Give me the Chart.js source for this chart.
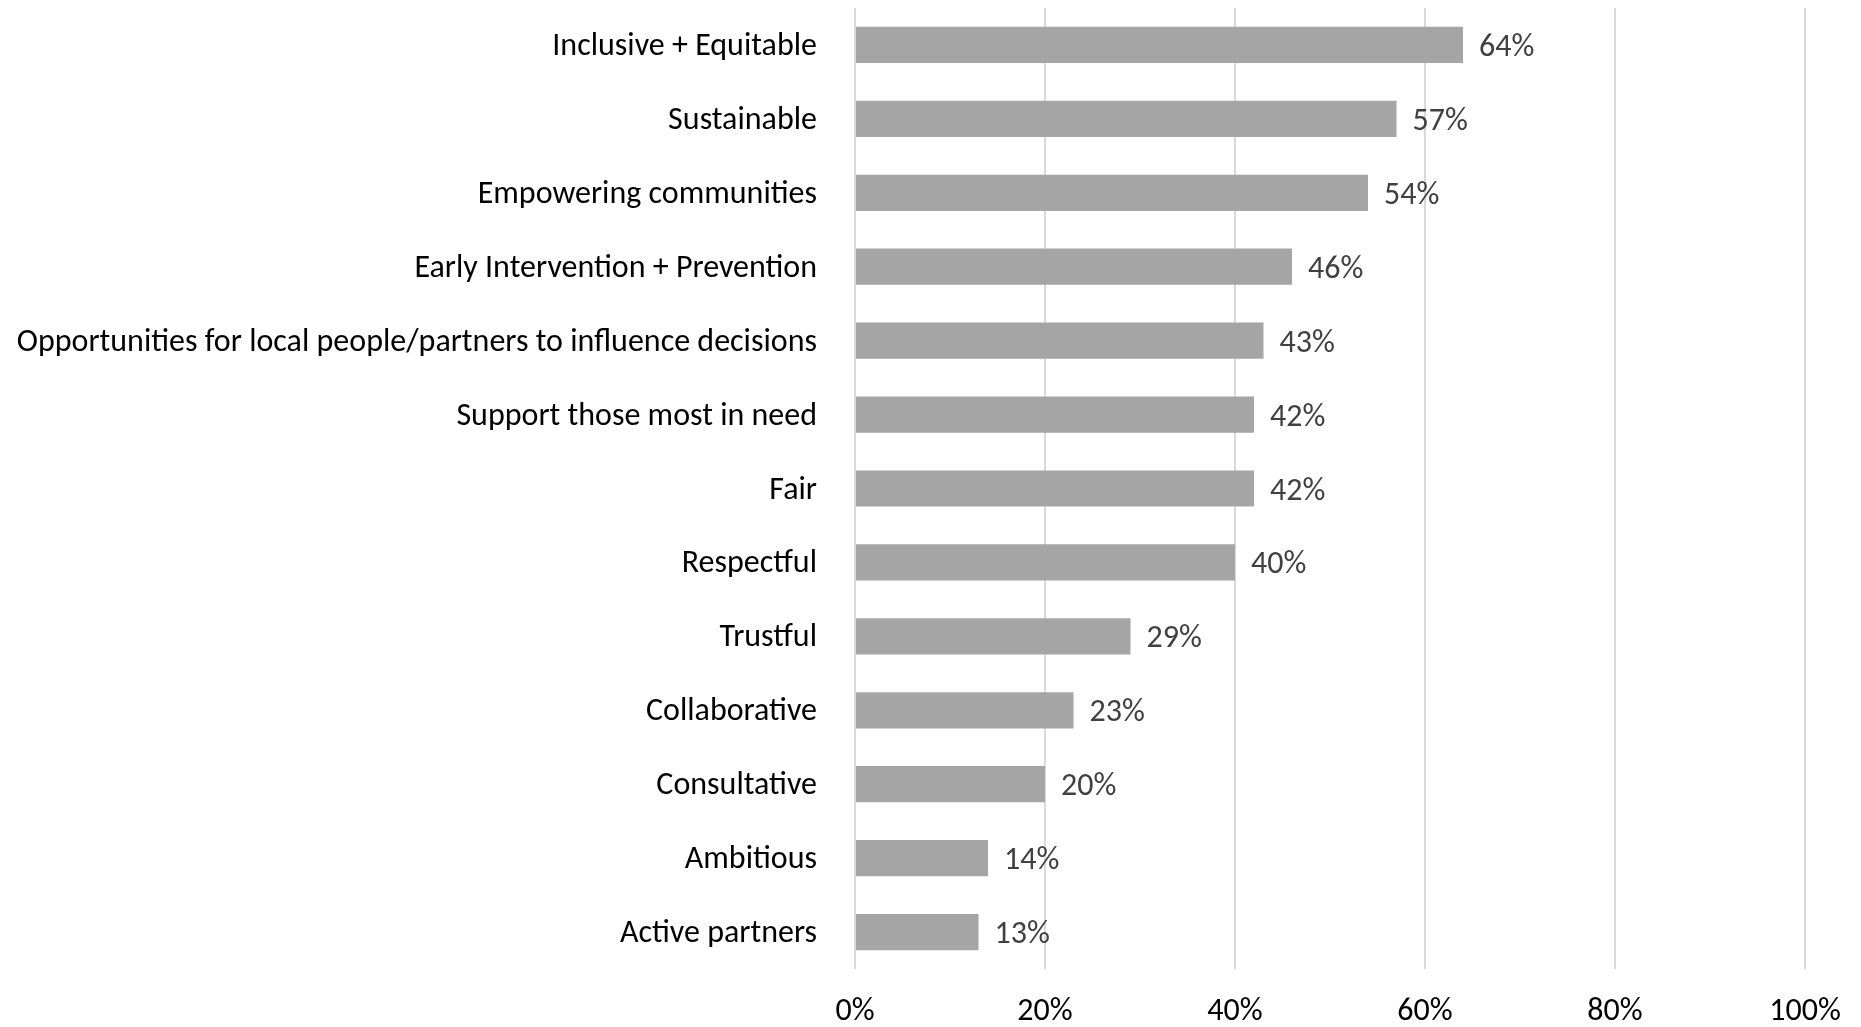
<!DOCTYPE html>
<html>
<head>
<meta charset="utf-8">
<script src="https://cdn.jsdelivr.net/npm/chart.js@4/dist/chart.umd.min.js"></script>
<style>
  html, body { margin: 0; padding: 0; background: #fff; }
  #wrap { width: 1861px; height: 1027px; }
</style>
</head>
<body>
<div id="wrap"><canvas id="myChart"></canvas></div>
<script>
var categories = [
  'Inclusive + Equitable',
  'Sustainable',
  'Empowering communities',
  'Early Intervention + Prevention',
  'Opportunities for local people/partners to influence decisions',
  'Support those most in need',
  'Fair',
  'Respectful',
  'Trustful',
  'Collaborative',
  'Consultative',
  'Ambitious',
  'Active partners'
];
var percentages = [64, 57, 54, 46, 43, 42, 42, 40, 29, 23, 20, 14, 13];
var xTicks = [0, 20, 40, 60, 80, 100];

var FONT = "Carlito, Calibri, Lato, 'Open Sans', sans-serif";

// draw the "64%" style labels to the right of each bar
var barLabels = {
  id: 'barLabels',
  afterDatasetsDraw: function (chart) {
    var ctx = chart.ctx;
    var meta = chart.getDatasetMeta(0);
    ctx.save();
    ctx.font = '32px ' + FONT;
    ctx.fillStyle = '#404040';
    ctx.textAlign = 'left';
    ctx.textBaseline = 'middle';
    meta.data.forEach(function (bar, i) {
      ctx.fillText(percentages[i] + '%', bar.x + 16, bar.y + 3);
    });
    ctx.restore();
  }
};

var ctx = document.getElementById('myChart').getContext('2d');
var myChart = new Chart(ctx, {
  type: 'bar',
  data: {
    labels: categories,
    datasets: [{
      data: percentages,
      backgroundColor: '#a5a5a5',
      borderWidth: 0,
      categoryPercentage: 1,
      barPercentage: 0.49
    }]
  },
  options: {
    indexAxis: 'y',
    responsive: true,
    maintainAspectRatio: false,
    animation: false,
    layout: { padding: { top: 8, right: 56, left: 0, bottom: 0 } },
    plugins: {
      legend: { display: false },
      tooltip: { enabled: false }
    },
    scales: {
      x: {
        min: 0,
        max: 100,
        afterBuildTicks: function (scale) {
          scale.ticks = xTicks.map(function (v) { return { value: v }; });
        },
        afterFit: function (scale) {
          scale.height = 58;
          scale.paddingLeft = 0;
          scale.paddingRight = 0;
        },
        grid: { color: '#d9d9d9', lineWidth: 2, drawTicks: false },
        border: { display: false },
        ticks: {
          padding: 24,
          color: '#000',
          font: { size: 32, family: FONT },
          callback: function (v) { return v + '%'; }
        }
      },
      y: {
        afterFit: function (scale) {
          scale.width = 855;
          scale.paddingTop = 0;
          scale.paddingBottom = 0;
        },
        grid: { display: false, drawTicks: false },
        border: { display: false },
        ticks: {
          padding: 38,
          labelOffset: 2,
          color: '#000',
          font: { size: 32, family: FONT }
        }
      }
    }
  },
  plugins: [barLabels]
});
</script>
</body>
</html>
